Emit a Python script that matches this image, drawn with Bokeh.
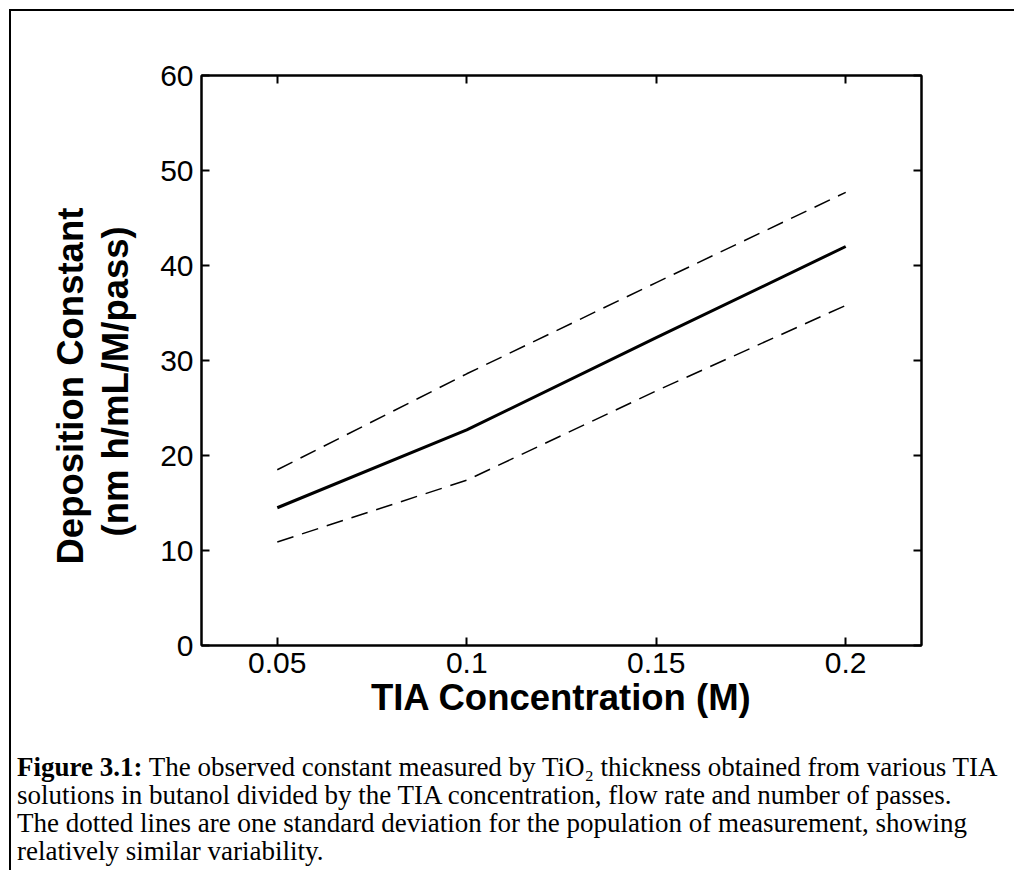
from bokeh.plotting import figure
from bokeh.models import LinearAxis, FixedTicker, Div, Range1d, Title
from bokeh.layouts import column
from bokeh.embed import file_html
from bokeh.resources import INLINE

# ---- data ----
conc = [0.05, 0.10, 0.15, 0.20]            # TIA concentration (M)
k_mean = [14.5, 22.7, 32.4, 42.0]          # deposition constant, mean
k_plus_sd = [18.5, 28.6, 38.2, 47.7]       # mean + 1 SD
k_minus_sd = [10.9, 17.4, 26.8, 35.8]      # mean - 1 SD

x_ticks = [0.05, 0.1, 0.15, 0.2]
x_tick_labels = ["0.05", "0.1", "0.15", "0.2"]
y_ticks = [0, 10, 20, 30, 40, 50, 60]
y_tick_labels = ["0", "10", "20", "30", "40", "50", "60"]

x_title = "TIA Concentration (M)"
y_title_line1 = "Deposition Constant"
y_title_line2 = "(nm h/mL/M/pass)"

caption_lines = [
    "<b>Figure 3.1:</b> The observed constant measured by TiO\u2082 thickness obtained from various TIA",
    "solutions in butanol divided by the TIA concentration, flow rate and number of passes.",
    "The dotted lines are one standard deviation for the population of measurement, showing",
    "relatively similar variability.",
]

SANS = "Liberation Sans"
LABEL_SIZE = "36.5px"
TICK_SIZE = "30px"

p = figure(
    frame_width=720, frame_height=570,
    x_range=Range1d(0.03, 0.22), y_range=Range1d(0, 60),
    min_border_left=190, min_border_right=90, min_border_top=64, min_border_bottom=103,
    output_backend="svg", toolbar_location=None,
    background_fill_color="white", border_fill_color="white",
)
p.xgrid.visible = False
p.ygrid.visible = False
p.outline_line_color = "black"
p.outline_line_width = 2

p.line(conc, k_mean, line_color="black", line_width=3)
p.line(conc, k_plus_sd, line_color="black", line_width=1.5, line_dash="17 9")
p.line(conc, k_minus_sd, line_color="black", line_width=1.5, line_dash="17 9")


def style_axis(ax, ticks, labels=None):
    ax.ticker = FixedTicker(ticks=ticks)
    ax.major_tick_in = 8
    ax.major_tick_out = 0
    ax.minor_tick_in = 0
    ax.minor_tick_out = 0
    ax.axis_line_width = 2
    ax.axis_line_color = "black"
    ax.major_tick_line_width = 2
    ax.major_tick_line_color = "black"
    if labels is None:
        ax.major_label_text_color = None
        ax.major_label_standoff = 0
    else:
        ax.major_label_overrides = dict(zip(ticks, labels))
        ax.major_label_text_font = SANS
        ax.major_label_text_font_size = TICK_SIZE
        ax.major_label_text_color = "black"
        ax.axis_label_text_font = SANS
        ax.axis_label_text_font_size = LABEL_SIZE
        ax.axis_label_text_font_style = "bold"
        ax.axis_label_text_color = "black"


style_axis(p.xaxis[0], x_ticks, x_tick_labels)
style_axis(p.yaxis[0], y_ticks, y_tick_labels)
p.xaxis[0].axis_label = x_title
p.xaxis[0].major_label_standoff = 7
p.xaxis[0].axis_label_standoff = 1
p.yaxis[0].major_label_standoff = 8

# two-line y title as side titles (nearest the axis first);
# offset = distance of the text start above the frame bottom
for txt, off, stand in [(y_title_line2, 109, 43), (y_title_line1, 81, -38)]:
    t = Title(text=txt, align="left", offset=off, standoff=stand,
              text_font=SANS, text_font_size=LABEL_SIZE, text_font_style="bold",
              text_color="black")
    p.add_layout(t, "left")

top_ax = LinearAxis()
style_axis(top_ax, x_ticks)
p.add_layout(top_ax, "above")
right_ax = LinearAxis()
style_axis(right_ax, y_ticks)
p.add_layout(right_ax, "right")

cap = Div(
    text="<br>".join(caption_lines),
    width=1000,
    styles={
        "font-family": "'Liberation Serif', serif",
        "font-size": "27px",
        "line-height": "28px",
        "padding-left": "1px",
        "white-space": "nowrap",
        "color": "black",
    },
)

layout = column(
    p, cap,
    margin=(9, 0, 0, 9),
    styles={"border-left": "2px solid black", "border-top": "2px solid black"},
)

open("out.html", "w").write(file_html(layout, INLINE))
